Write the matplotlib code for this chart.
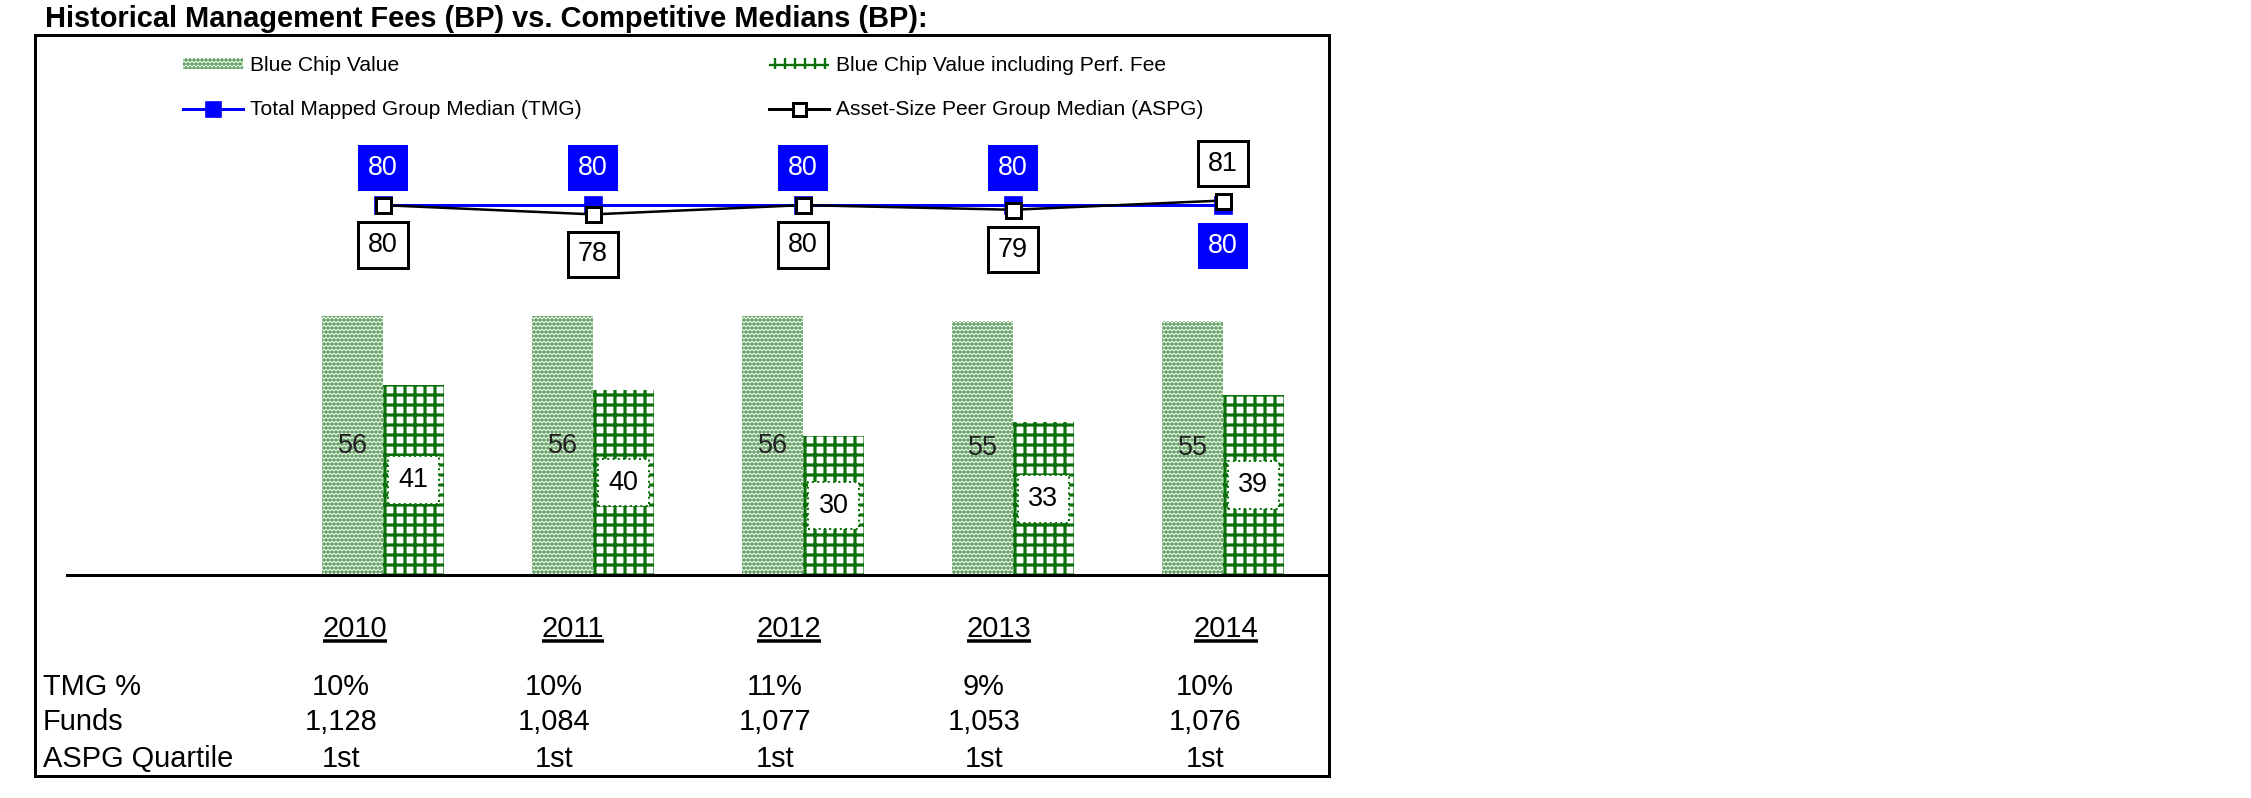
import numpy as np
import matplotlib
matplotlib.use('Agg')
import matplotlib.pyplot as plt
from matplotlib.patches import Rectangle, Patch
from matplotlib.lines import Line2D

# ---- data ----
years = ['2010', '2011', '2012', '2013', '2014']
blue_chip = [56, 56, 56, 55, 55]
blue_chip_perf = [41, 40, 30, 33, 39]
tmg_median = [80, 80, 80, 80, 80]
aspg_median = [80, 78, 80, 79, 81]
tmg_pct = ['10%', '10%', '11%', '9%', '10%']
funds = ['1,128', '1,084', '1,077', '1,053', '1,076']
aspg_quartile = ['1st', '1st', '1st', '1st', '1st']
row_labels = ['TMG %', 'Funds', 'ASPG Quartile']
legend_labels = ['Blue Chip Value', 'Total Mapped Group Median (TMG)',
                 'Blue Chip Value including Perf. Fee', 'Asset-Size Peer Group Median (ASPG)']
title = 'Historical Management Fees (BP) vs. Competitive Medians (BP):'

W, H, DPI = 2251, 798, 120
GREEN = '#0a700a'
BLUE = '#0000ff'


def pt(px):
    return px * 72.0 / DPI


def fx(x):
    return x / W


def fy(y):
    return 1 - y / H


def hatch_lw(patches, lw):
    for p in patches:
        if hasattr(p, 'set_hatch_linewidth'):
            p.set_hatch_linewidth(lw)


plt.rcParams['font.family'] = ['Liberation Sans', 'DejaVu Sans']

fig = plt.figure(figsize=(W / DPI, H / DPI), dpi=DPI)
fig.patch.set_facecolor('white')

fig.text(fx(45), fy(27), title, fontsize=pt(29), fontweight='bold', ha='left', va='baseline')

# outer frame
fig.add_artist(Rectangle((fx(35), fy(776)), fx(1329) - fx(35), fy(35) - fy(776),
                         transform=fig.transFigure, fill=False, ec='black', lw=pt(3)))

# plot area
ax = fig.add_axes([fx(35), fy(575), fx(1329) - fx(35), fy(35) - fy(575)])
ax.set_xlim(-1.657, 4.505)
ax.set_ylim(0, 116.8)
ax.axis('off')

x = np.arange(len(years))
w = 0.29

with plt.rc_context({'hatch.linewidth': 1.4}):
    b1 = ax.bar(x - w / 2, blue_chip, w, color='white', edgecolor=GREEN, linewidth=0, hatch='.....')
hatch_lw(b1, 1.4)
with plt.rc_context({'hatch.linewidth': 1.9}):
    b2 = ax.bar(x + w / 2, blue_chip_perf, w, color='white', edgecolor=GREEN, linewidth=0, hatch='++')
hatch_lw(b2, 1.9)

ax.plot([-1.505, 4.505], [0, 0], color='black', lw=pt(3), clip_on=False, zorder=6)

for xi, v in zip(x, blue_chip):
    ax.text(xi - w / 2, v / 2, str(v), ha='center', va='center', fontsize=pt(27), color='#222222')
for xi, v in zip(x, blue_chip_perf):
    ax.text(xi + w / 2, v / 2, str(v), ha='center', va='center', fontsize=pt(27), color='black',
            bbox=dict(boxstyle='square,pad=0.4', fc='white', ec=GREEN, ls=':', lw=1.2))

ax.plot(x, tmg_median, color=BLUE, lw=pt(3), marker='s', ms=pt(17), mfc=BLUE, mec=BLUE, zorder=4)
ax.plot(x, aspg_median, color='black', lw=pt(2.5), marker='s', ms=pt(15), mfc='white',
        mec='black', mew=pt(3), zorder=5)

for xi, t, a in zip(x, tmg_median, aspg_median):
    up = t >= a
    ax.annotate(str(t), (xi, t), xytext=(0, pt(37) if up else -pt(41)), textcoords='offset points',
                ha='center', va='center', fontsize=pt(27), color='white', zorder=7,
                bbox=dict(boxstyle='square,pad=0.38', fc=BLUE, ec=BLUE, lw=0))
    ax.annotate(str(a), (xi, a), xytext=(0, -pt(40) if up else pt(37)), textcoords='offset points',
                ha='center', va='center', fontsize=pt(27), color='black', zorder=7,
                bbox=dict(boxstyle='square,pad=0.36', fc='white', ec='black', lw=pt(3)))

# legend
h_bc = Patch(facecolor='white', edgecolor=GREEN, linewidth=0, hatch='.....')
h_bcp = Patch(facecolor='white', edgecolor=GREEN, linewidth=0, hatch='++')
h_tmg = Line2D([], [], color=BLUE, lw=pt(3), marker='s', ms=pt(15), mfc=BLUE, mec=BLUE)
h_aspg = Line2D([], [], color='black', lw=pt(3), marker='s', ms=pt(13), mfc='white',
                mec='black', mew=pt(3))
leg = fig.legend([h_bc, h_tmg, h_bcp, h_aspg], legend_labels, ncol=2, loc='upper left',
                 bbox_to_anchor=(fx(183), fy(56)), frameon=False, fontsize=pt(21),
                 handlelength=60 / 21, handleheight=0.4, handletextpad=0.35,
                 labelspacing=1.2, columnspacing=8.9, borderpad=0, borderaxespad=0)
hatch_lw(leg.get_patches(), 1.4)

# table below the chart
year_cx = [355, 573, 789, 999, 1226]
val_cx = [341, 554, 775, 984, 1205]
row_y = [695, 730, 767]

year_txt = []
for cx, yr in zip(year_cx, years):
    year_txt.append(fig.text(fx(cx), fy(637), yr, fontsize=pt(29), ha='center', va='baseline'))

for ry, lab, vals in zip(row_y, row_labels, [tmg_pct, funds, aspg_quartile]):
    fig.text(fx(43), fy(ry), lab, fontsize=pt(29), ha='left', va='baseline')
    for cx, v in zip(val_cx, vals):
        fig.text(fx(cx), fy(ry), v, fontsize=pt(29), ha='center', va='baseline')

fig.canvas.draw()
r = fig.canvas.get_renderer()
for t in year_txt:
    bb = t.get_window_extent(r)
    fig.add_artist(Line2D([bb.x0 / W, bb.x1 / W], [fy(641), fy(641)], transform=fig.transFigure,
                          color='black', lw=pt(3.5), solid_capstyle='butt'))

fig.savefig('out.png', dpi=DPI, facecolor='white')
